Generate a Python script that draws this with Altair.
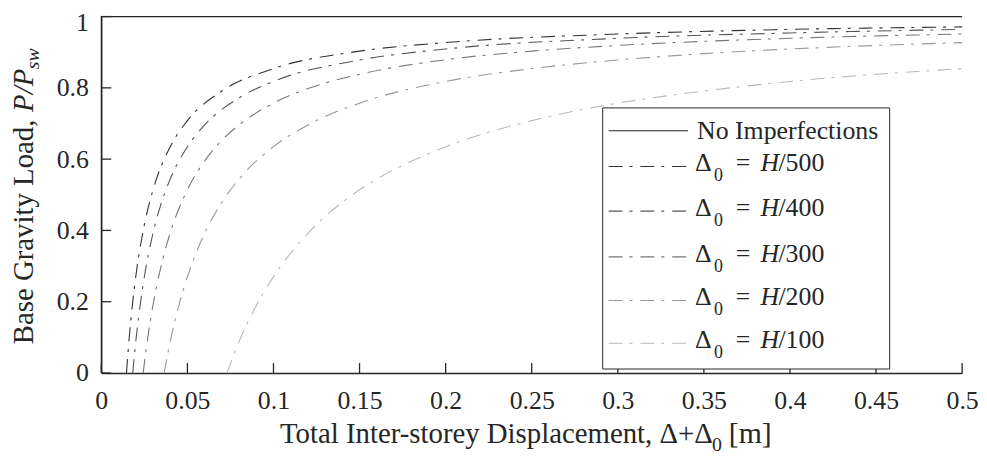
import altair as alt
import pandas as pd

FONT = "Liberation Serif"
INK = "#262626"

series = ["No Imperfections", "H/500", "H/400", "H/300", "H/200", "H/100"]
colors = ["#262626", "#333333", "#555555", "#777777", "#999999", "#b8b8b8"]
denoms = ["", "500", "400", "300", "200", "100"]

none_x = [0.0, 0.0, 0.5]
none_y = [0.0, 1.0, 1.0]
h500_x = [0.0146, 0.016, 0.018, 0.02, 0.025, 0.03, 0.04, 0.05, 0.07, 0.1, 0.15, 0.2, 0.3, 0.4, 0.5]
h500_y = [0.0, 0.088, 0.189, 0.27, 0.416, 0.513, 0.635, 0.708, 0.791, 0.854, 0.903, 0.927, 0.951, 0.964, 0.971]
h400_x = [0.01825, 0.02, 0.022, 0.025, 0.03, 0.035, 0.04, 0.05, 0.06, 0.08, 0.1, 0.15, 0.2, 0.3, 0.4, 0.5]
h400_y = [0.0, 0.088, 0.17, 0.27, 0.392, 0.479, 0.544, 0.635, 0.696, 0.772, 0.818, 0.878, 0.909, 0.939, 0.954, 0.964]
h300_x = [0.0243, 0.027, 0.03, 0.035, 0.04, 0.05, 0.06, 0.07, 0.08, 0.1, 0.12, 0.15, 0.2, 0.25, 0.3, 0.4, 0.5]
h300_y = [0.0, 0.1, 0.19, 0.306, 0.393, 0.514, 0.595, 0.653, 0.696, 0.757, 0.798, 0.838, 0.879, 0.903, 0.919, 0.939, 0.951]
h200_x = [0.0365, 0.04, 0.045, 0.05, 0.06, 0.07, 0.08, 0.1, 0.12, 0.15, 0.2, 0.25, 0.3, 0.35, 0.4, 0.45, 0.5]
h200_y = [0.0, 0.088, 0.189, 0.27, 0.392, 0.479, 0.544, 0.635, 0.696, 0.757, 0.818, 0.854, 0.878, 0.896, 0.909, 0.919, 0.927]
h100_x = [0.073, 0.08, 0.09, 0.1, 0.12, 0.14, 0.16, 0.18, 0.2, 0.25, 0.3, 0.35, 0.4, 0.45, 0.5]
h100_y = [0.0, 0.088, 0.189, 0.27, 0.392, 0.479, 0.544, 0.594, 0.635, 0.708, 0.757, 0.791, 0.818, 0.838, 0.854]

x_ticks = [0, 0.05, 0.1, 0.15, 0.2, 0.25, 0.3, 0.35, 0.4, 0.45, 0.5]
y_ticks = [0, 0.2, 0.4, 0.6, 0.8, 1]

xs = [none_x, h500_x, h400_x, h300_x, h200_x, h100_x]
ys = [none_y, h500_y, h400_y, h300_y, h200_y, h100_y]

frames = []
for name, xv, yv in zip(series, xs, ys):
    frames.append(pd.DataFrame({"series": name, "x": xv, "y": yv, "i": list(range(len(xv)))}))
df = pd.concat(frames, ignore_index=True)

W, H = 867, 359

xscale = alt.Scale(domain=[0, 0.5], nice=False, zero=False)
yscale = alt.Scale(domain=[0, 1], nice=False, zero=False)
cscale = alt.Scale(domain=series, range=colors)

xaxis = alt.Axis(values=x_ticks, format=".2~f", ticks=False, grid=False, labelFont=FONT,
                 labelFontSize=26, labelColor=INK, labelPadding=15, domainColor=INK,
                 domainWidth=1.3, labelFlush=False, labelOverlap=False, title=None)
yaxis = alt.Axis(values=y_ticks, format=".1~f", ticks=False, grid=False, labelFont=FONT,
                 labelFontSize=26, labelColor=INK, labelPadding=13, domainColor=INK,
                 domainWidth=1.3, labelFlush=False, labelOverlap=False, title=None,
                 labelOffset={"condition": {"test": "datum.value == 1", "value": 6}, "value": 0})

X = alt.X("x:Q", scale=xscale, axis=xaxis)
Y = alt.Y("y:Q", scale=yscale, axis=yaxis)

base = alt.Chart(df)
curves = base.transform_filter(alt.datum.series != "No Imperfections").mark_line(
    strokeWidth=1.1, interpolate="monotone", strokeDash=[14, 7, 3, 8]
).encode(
    x=X, y=Y,
    color=alt.Color("series:N", scale=cscale, legend=None),
)
noimp = base.transform_filter(alt.datum.series == "No Imperfections").mark_line(
    strokeWidth=1.2, color=INK
).encode(x=X, y=Y, order=alt.Order("i:Q"))

xt = alt.Chart(pd.DataFrame({"x": x_ticks})).mark_rule(color=INK, strokeWidth=1.3).encode(
    x=X, y=alt.value(H), y2=alt.value(H - 10)
)
yt = alt.Chart(pd.DataFrame({"y": y_ticks})).mark_rule(color=INK, strokeWidth=1.3).encode(
    y=Y, x=alt.value(0), x2=alt.value(10)
)

one = pd.DataFrame({"a": [0]})
layers = [curves, noimp, xt, yt]

# legend box
layers.append(alt.Chart(one).mark_rect(fill="white", stroke=INK, strokeWidth=1).encode(
    x=alt.value(505), x2=alt.value(794), y=alt.value(92), y2=alt.value(355)))

row_y = [115, 151, 196, 242, 286, 329]
LF = 26
for k, name in enumerate(series):
    ly = row_y[k]
    if k == 0:
        layers.append(alt.Chart(one).mark_rule(color=colors[k], strokeWidth=1.2).encode(
            x=alt.value(511), x2=alt.value(591), y=alt.value(ly)))
        layers.append(alt.Chart(one).mark_text(text=name, font=FONT, fontSize=LF, color=INK,
                                               align="left", baseline="middle").encode(
            x=alt.value(600), y=alt.value(ly)))
    else:
        layers.append(alt.Chart(one).mark_rule(color=colors[k], strokeWidth=1.1,
                                               strokeDash=[14, 7, 3, 8]).encode(
            x=alt.value(511), x2=alt.value(591), y=alt.value(ly)))
        parts = [("Δ", 598, 5, LF, "normal"), ("0", 617, 15, 18, "normal"),
                 ("=", 639, 5, LF, "normal"), ("H", 664, 5, LF, "italic"),
                 ("/" + denoms[k], 682, 5, LF, "normal")]
        for txt, px, dy, fs, st in parts:
            layers.append(alt.Chart(one).mark_text(text=txt, font=FONT, fontSize=fs, color=INK,
                                                   fontStyle=st, align="left",
                                                   baseline="alphabetic").encode(
                x=alt.value(px), y=alt.value(ly + dy)))

# x-axis title
TF = 29
xt_parts = [("Total Inter-storey Displacement, Δ+Δ", 180, 430, TF), ("0", 615, 438, 20), ("[m]", 632, 430, 30)]
for txt, px, py, fs in xt_parts:
    layers.append(alt.Chart(one).mark_text(text=txt, font=FONT, fontSize=fs, color=INK,
                                           align="left", baseline="alphabetic").encode(
        x=alt.value(px), y=alt.value(py)))

# y-axis title (rotated)
yt_parts = [("Base Gravity Load,", -78, 330, TF, "normal"), ("P/P", -78, 96, TF, "italic"),
            ("sw", -69, 53, 20, "italic")]
for txt, px, py, fs, st in yt_parts:
    layers.append(alt.Chart(one).mark_text(text=txt, font=FONT, fontSize=fs, color=INK,
                                           fontStyle=st, angle=270, align="left",
                                           baseline="middle").encode(
        x=alt.value(px), y=alt.value(py)))

chart = alt.layer(*layers).properties(
    width=W, height=H,
    autosize=alt.AutoSizeParams(type="none"),
    padding={"left": 94, "top": 7, "right": 17, "bottom": 87},
).configure_view(stroke=None)

chart.save("out.html", embed_options={"renderer": "svg", "actions": False})
